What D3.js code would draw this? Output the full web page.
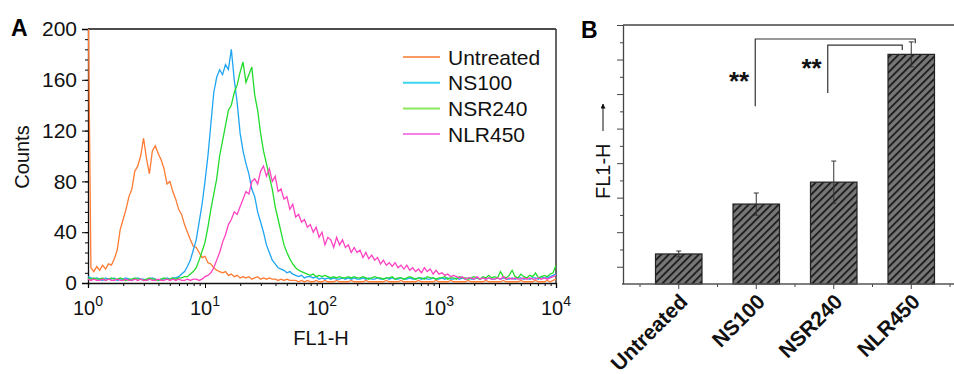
<!DOCTYPE html>
<html>
<head>
<meta charset="utf-8">
<script src="https://cdn.jsdelivr.net/npm/d3@7"></script>
<style>
  body { margin: 0; background: #fff; }
  svg { display: block; font-family: "Liberation Sans", Arial, sans-serif; }
</style>
</head>
<body>
<svg id="chart" width="954" height="374"></svg>
<script>
// ---------- data: panel A (flow cytometry histograms, 161 log channels) ----------
const decades = [1, 10, 100, 1000, 10000];
const countTicks = [0, 40, 80, 120, 160, 200];
const seriesNames = ["Untreated", "NS100", "NSR240", "NLR450"];
const seriesColors = ["#ff7a33", "#1ea5f2", "#22dc2c", "#ff42c2"];
const legendColors = ["#f99a62", "#3cd4f0", "#8ce65e", "#f77fe6"];

const untreated = [
  240, 12, 9, 13, 10, 14, 11, 15, 14, 19,
  26, 42, 50, 58, 68, 74, 88, 92, 100, 114,
  98, 86, 104, 108, 102, 97, 90, 78, 80, 72,
  66, 58, 54, 46, 40, 34, 29, 28, 24, 20,
  21, 16, 15, 12, 10, 9, 8, 9, 6, 7,
  5, 6, 4, 5, 4, 5, 3, 4, 5, 3,
  4, 3, 4, 3, 3, 2, 3, 2, 3, 2,
  2, 2, 1, 2, 1, 2, 1, 1, 2, 1,
  1, 2, 1, 1, 1, 2, 1, 1, 1, 1,
  2, 1, 1, 1, 1, 2, 1, 1, 1, 1,
  1, 1, 2, 1, 1, 1, 1, 2, 1, 1,
  1, 1, 1, 2, 1, 1, 1, 1, 1, 2,
  1, 1, 1, 1, 2, 1, 1, 1, 1, 1,
  2, 1, 1, 1, 1, 1, 2, 1, 1, 1,
  1, 1, 2, 1, 1, 1, 1, 1, 2, 1,
  1, 1, 1, 2, 1, 1, 1, 2, 1, 2,
  3
];
const ns100 = [
  5, 4, 3, 4, 3, 2, 4, 3, 3, 4,
  2, 3, 3, 4, 3, 2, 3, 4, 3, 3,
  2, 3, 4, 3, 2, 3, 3, 4, 3, 4,
  4, 5, 7, 9, 13, 18, 26, 34, 48, 62,
  80, 100, 125, 150, 162, 168, 164, 172, 168, 184,
  160, 142, 118, 104, 94, 86, 74, 68, 56, 48,
  40, 30, 24, 18, 15, 12, 11, 10, 8, 9,
  7, 6, 5, 6, 4, 5, 5, 4, 5, 3,
  4, 3, 4, 3, 4, 3, 3, 4, 3, 4,
  3, 4, 3, 3, 4, 3, 4, 3, 3, 4,
  3, 3, 4, 3, 4, 3, 3, 4, 3, 3,
  4, 3, 3, 4, 3, 4, 3, 3, 4, 3,
  3, 4, 3, 4, 3, 3, 4, 3, 4, 3,
  4, 3, 3, 4, 3, 4, 3, 4, 3, 3,
  4, 3, 4, 3, 3, 4, 3, 4, 4, 3,
  4, 3, 4, 4, 3, 5, 4, 4, 5, 6,
  7
];
const nsr240 = [
  4, 3, 4, 3, 3, 4, 2, 3, 4, 3,
  3, 4, 3, 2, 3, 3, 4, 3, 3, 2,
  3, 4, 3, 3, 2, 3, 4, 3, 3, 4,
  3, 4, 4, 5, 5, 7, 9, 12, 18, 25,
  32, 44, 58, 70, 82, 100, 112, 124, 136, 140,
  150, 156, 166, 174, 158, 164, 170, 148, 136, 118,
  104, 94, 84, 74, 60, 50, 40, 30, 24, 19,
  15, 12, 10, 9, 8, 7, 6, 7, 5, 6,
  5, 6, 5, 4, 5, 4, 5, 4, 4, 5,
  4, 5, 4, 4, 5, 4, 3, 4, 5, 4,
  4, 3, 4, 4, 5, 3, 4, 4, 3, 4,
  5, 4, 3, 4, 4, 3, 5, 4, 4, 3,
  4, 4, 5, 3, 4, 4, 3, 5, 4, 4,
  3, 4, 5, 4, 3, 5, 4, 6, 4, 5,
  4, 9, 5, 4, 6, 10, 5, 4, 7, 5,
  4, 6, 5, 8, 4, 5, 6, 5, 7, 8,
  14
];
const nlr450 = [
  3, 2, 3, 2, 2, 3, 2, 3, 2, 2,
  3, 2, 2, 3, 2, 2, 3, 2, 3, 2,
  2, 3, 2, 2, 3, 2, 2, 3, 2, 3,
  2, 3, 2, 2, 3, 2, 3, 3, 2, 3,
  5, 6, 8, 12, 18, 24, 32, 38, 46, 50,
  56, 54, 60, 66, 72, 70, 80, 82, 78, 88,
  92, 84, 90, 80, 84, 72, 74, 66, 68, 58,
  62, 52, 54, 48, 50, 44, 46, 40, 44, 36,
  40, 30, 36, 34, 28, 36, 30, 34, 28, 30,
  24, 28, 24, 26, 20, 24, 19, 22, 18, 20,
  15, 18, 14, 16, 13, 16, 12, 14, 11, 14,
  10, 12, 9, 11, 8, 12, 9, 11, 7, 10,
  7, 8, 6, 7, 5, 6, 5, 4, 5, 3,
  4, 4, 3, 5, 3, 4, 3, 4, 3, 3,
  4, 3, 5, 3, 4, 3, 4, 3, 3, 4,
  3, 4, 3, 3, 4, 3, 4, 3, 4, 5,
  6
];
const histograms = [untreated, ns100, nsr240, nlr450];

// ---------- data: panel B (mean fluorescence, arbitrary units) ----------
const barCategories = ["Untreated", "NS100", "NSR240", "NLR450"];
const barMeans = [1.74, 4.63, 5.9, 13.3];
const barErrors = [0.17, 0.64, 1.22, 0.72];
const sigLabel = "**";

const svg = d3.select("#chart");

// channels are spaced evenly in log, 40 per decade
const channels = d3.range(untreated.length).map(i => Math.pow(10, i / 40));

// ====================== panel A ======================
const xA = d3.scaleLog().domain([1, 10000]).range([88, 556]);
const yA = d3.scaleLinear().domain([0, 200]).range([283, 29]);

svg.append("defs").append("clipPath").attr("id", "clipA")
  .append("rect").attr("x", 86).attr("y", 29).attr("width", 470).attr("height", 256);

const line = d3.line()
  .x((d, i) => xA(channels[i]))
  .y(d => yA(d));

const gA = svg.append("g");

// left axis (major + minor)
gA.append("g")
  .attr("transform", "translate(88,0)")
  .call(d3.axisLeft(yA).tickValues(d3.range(0, 201, 8)).tickSize(3).tickFormat(""))
  .call(g => g.select(".domain").remove());
gA.append("g")
  .attr("transform", "translate(88,0)")
  .call(d3.axisLeft(yA).tickValues(countTicks).tickSize(6).tickPadding(5))
  .call(g => g.selectAll("text").attr("font-size", 21).attr("fill", "#111"))
  .call(g => g.select(".domain").attr("stroke", "#111").attr("stroke-width", 1.3));

// bottom axis (major decades + minor)
const minorX = [];
decades.slice(0, -1).forEach(d => d3.range(2, 10).forEach(k => minorX.push(d * k)));
gA.append("g")
  .attr("transform", "translate(0,283)")
  .call(d3.axisBottom(xA).tickValues(minorX).tickSize(3).tickFormat(""))
  .call(g => g.select(".domain").remove());
gA.append("g")
  .attr("transform", "translate(0,283)")
  .call(d3.axisBottom(xA).tickValues(decades).tickSize(5).tickFormat(""))
  .call(g => g.select(".domain").attr("stroke", "#111").attr("stroke-width", 1.3));

const xLabels = gA.append("g").selectAll("text").data(decades).join("text")
  .attr("x", d => xA(d))
  .attr("y", 315)
  .attr("text-anchor", "middle")
  .attr("font-size", 20)
  .attr("fill", "#111");
xLabels.append("tspan").text("10");
xLabels.append("tspan").attr("dy", -9).attr("font-size", 14).text(d => Math.round(Math.log10(d)));

// frame: top and right
gA.append("line").attr("x1", 88).attr("x2", 556).attr("y1", 29).attr("y2", 29)
  .attr("stroke", "#111").attr("stroke-width", 1.5);
gA.append("line").attr("x1", 556).attr("x2", 556).attr("y1", 29).attr("y2", 283)
  .attr("stroke", "#333").attr("stroke-width", 1.5);

// curves
gA.append("g").attr("clip-path", "url(#clipA)")
  .selectAll("path").data(histograms).join("path")
  .attr("d", line)
  .attr("fill", "none")
  .attr("stroke", (d, i) => seriesColors[i])
  .attr("stroke-width", 1.3);

// legend
const legend = gA.append("g").selectAll("g").data(seriesNames).join("g")
  .attr("transform", (d, i) => `translate(403,${57 + i * 25.7})`);
legend.append("line").attr("x1", 0).attr("x2", 37)
  .attr("stroke", (d, i) => legendColors[i]).attr("stroke-width", 2);
legend.append("text").attr("x", 45).attr("dy", "0.36em")
  .attr("font-size", 21).attr("fill", "#111").text(d => d);

// titles
gA.append("text").attr("transform", "translate(29,157) rotate(-90)")
  .attr("text-anchor", "middle").attr("font-size", 20).attr("fill", "#111").text("Counts");
gA.append("text").attr("x", 321).attr("y", 345)
  .attr("text-anchor", "middle").attr("font-size", 20).attr("fill", "#111").text("FL1-H");
gA.append("text").attr("x", 11).attr("y", 36)
  .attr("font-size", 23).attr("font-weight", "bold").text("A");

// ====================== panel B ======================
const xB = d3.scaleBand().domain(barCategories).range([640, 950])
  .paddingInner(0.4).paddingOuter(0.2);
const yB = d3.scaleLinear().domain([0, 15]).range([284, 25]);

const pattern = svg.select("defs").append("pattern")
  .attr("id", "hatch")
  .attr("patternUnits", "userSpaceOnUse")
  .attr("width", 5.3).attr("height", 5.3)
  .attr("patternTransform", "rotate(45)");
pattern.append("rect").attr("width", 5.3).attr("height", 5.3).attr("fill", "#777");
pattern.append("line").attr("x1", 1).attr("x2", 1).attr("y1", 0).attr("y2", 5.3)
  .attr("stroke", "#1a1a1a").attr("stroke-width", 1.8);

const gB = svg.append("g");

// y axis, no labels
gB.append("g")
  .attr("transform", "translate(623,0)")
  .call(d3.axisLeft(yB).tickValues(d3.range(1, 16)).tickSize(0).tickFormat(""))
  .call(g => g.selectAll(".tick line").attr("x2", d => d % 2 ? -6 : -3).attr("stroke", "#444"))
  .call(g => g.select(".domain").attr("stroke", "#444").attr("stroke-width", 1.3));

// top line
gB.append("line").attr("x1", 623).attr("x2", 954).attr("y1", 25).attr("y2", 25)
  .attr("stroke", "#444").attr("stroke-width", 1.3);

// bars
gB.append("g").selectAll("rect").data(barCategories).join("rect")
  .attr("x", d => xB(d))
  .attr("width", xB.bandwidth())
  .attr("y", (d, i) => yB(barMeans[i]))
  .attr("height", (d, i) => yB(0) - yB(barMeans[i]))
  .attr("fill", "url(#hatch)")
  .attr("stroke", "#222")
  .attr("stroke-width", 1.2);

// error bars
const err = gB.append("g").selectAll("g").data(barCategories).join("g")
  .attr("transform", d => `translate(${xB(d) + xB.bandwidth() / 2},0)`)
  .attr("stroke", "#333").attr("stroke-width", 1);
err.append("line")
  .attr("y1", (d, i) => yB(barMeans[i] - barErrors[i]))
  .attr("y2", (d, i) => yB(barMeans[i] + barErrors[i]));
err.append("line").attr("x1", -2.5).attr("x2", 2.5)
  .attr("y1", (d, i) => yB(barMeans[i] + barErrors[i]))
  .attr("y2", (d, i) => yB(barMeans[i] + barErrors[i]));
err.append("line").attr("x1", -2.5).attr("x2", 2.5)
  .attr("y1", (d, i) => yB(barMeans[i] - barErrors[i]))
  .attr("y2", (d, i) => yB(barMeans[i] - barErrors[i]));

// x axis: ticks at centres and at band edges
gB.append("g")
  .attr("transform", "translate(0,284)")
  .call(d3.axisBottom(xB).tickSize(5).tickFormat(""))
  .call(g => g.selectAll(".tick line").attr("stroke", "#444"))
  .call(g => g.select(".domain").remove());
gB.append("g").selectAll("line").data(d3.range(barCategories.length + 1)).join("line")
  .attr("x1", k => xB.range()[0] + k * xB.step())
  .attr("x2", k => xB.range()[0] + k * xB.step())
  .attr("y1", 284).attr("y2", 287)
  .attr("stroke", "#444");
gB.append("line").attr("x1", 622).attr("x2", 954).attr("y1", 284).attr("y2", 284)
  .attr("stroke", "#555").attr("stroke-width", 1.5);

gB.append("g").selectAll("text").data(barCategories).join("text")
  .attr("transform", d => `translate(${xB(d) + xB.bandwidth() / 2 + 10},303) rotate(-45)`)
  .attr("text-anchor", "end")
  .attr("font-size", 21)
  .attr("font-weight", "bold")
  .attr("fill", "#111")
  .text(d => d);

// significance brackets
const centre = d => xB(d) + xB.bandwidth() / 2;
const brackets = [
  { a: "NS100", b: "NLR450", dxA: -1, dxB: 4, top: 14.19, lowA: 10.3, lowB: 13.95 },
  { a: "NSR240", b: "NLR450", dxA: -6, dxB: -9, top: 13.84, lowA: 11.06, lowB: 13.55 }
];
brackets.forEach(br => {
  const x1 = centre(br.a) + br.dxA, x2 = centre(br.b) + br.dxB;
  gB.append("path")
    .attr("d", `M${x1},${yB(br.lowA)}V${yB(br.top)}H${x2}V${yB(br.lowB)}`)
    .attr("fill", "none").attr("stroke", "#333").attr("stroke-width", 1.2);
  gB.append("text")
    .attr("x", x1 - 6).attr("y", yB(br.lowA) - 16)
    .attr("text-anchor", "end")
    .attr("font-size", 26).attr("font-weight", "bold").attr("fill", "#111")
    .text(sigLabel);
});

// axis title with arrow
gB.append("text").attr("transform", "translate(610,199) rotate(-90)")
  .attr("font-size", 20).attr("fill", "#111").text("FL1-H");
svg.select("defs").append("marker")
  .attr("id", "arrow").attr("viewBox", "0 0 10 10").attr("refX", 9).attr("refY", 5)
  .attr("markerWidth", 5).attr("markerHeight", 5).attr("orient", "auto")
  .append("path").attr("d", "M0,0L10,5L0,10z").attr("fill", "#111");
gB.append("line").attr("x1", 603).attr("x2", 603).attr("y1", 131).attr("y2", 104)
  .attr("stroke", "#111").attr("stroke-width", 1).attr("marker-end", "url(#arrow)");

gB.append("text").attr("x", 581).attr("y", 38)
  .attr("font-size", 23).attr("font-weight", "bold").text("B");
</script>
</body>
</html>
